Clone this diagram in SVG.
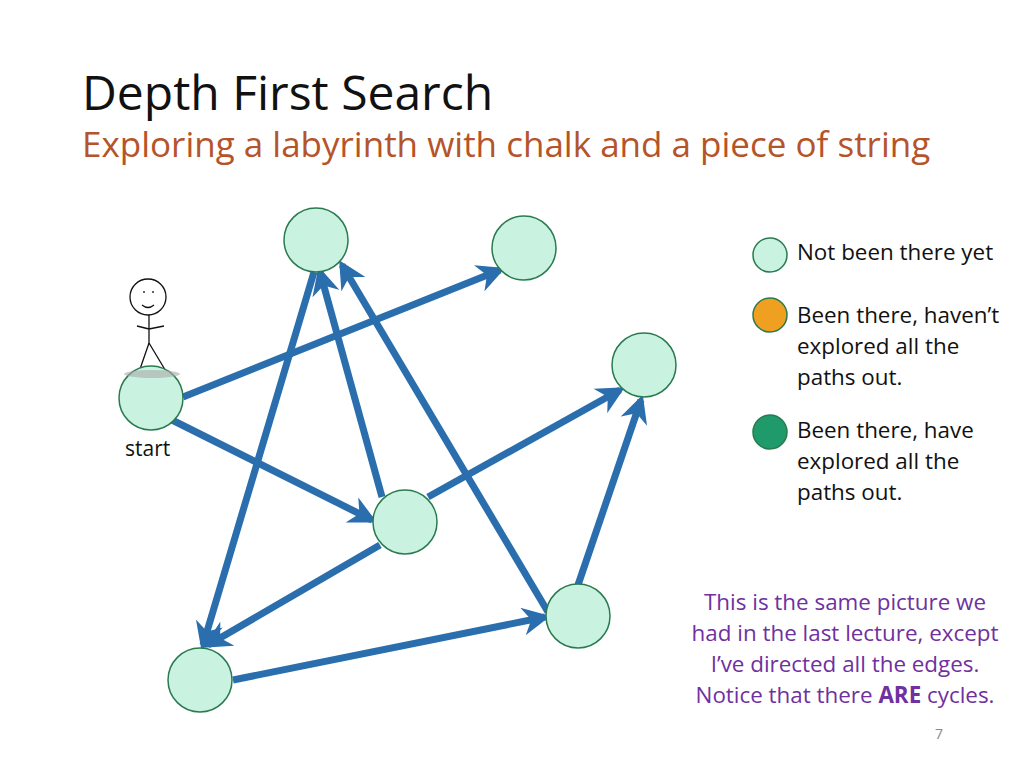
<svg xmlns="http://www.w3.org/2000/svg" width="1024" height="768" viewBox="0 0 1024 768">
<style>
.n{fill:#c9f2e1;stroke:#2a7a50;stroke-width:1.5}
.e{stroke:#2a6ead;stroke-width:7;fill:none;marker-end:url(#ah)}
.t{font-family:"Open Sans","Liberation Sans",sans-serif}
</style>
<defs>
<marker id="ah" viewBox="0 0 10 10" refX="8" refY="5" markerWidth="4" markerHeight="4" orient="auto" markerUnits="strokeWidth">
<path d="M0,0 L10,5 L0,10 L3,5 z" fill="#2a6ead"/>
</marker>
</defs>
<rect width="1024" height="768" fill="#fff"/>
<text class="t" x="82" y="110" font-size="48" fill="#111">Depth First Search</text>
<text class="t" x="82" y="157" font-size="35" fill="#b5542a">Exploring a labyrinth with chalk and a piece of string</text>
<g id="edges">
<line class="e" x1="183" y1="397" x2="500" y2="270"/>
<line class="e" x1="172" y1="420" x2="372" y2="520"/>
<line class="e" x1="382" y1="497" x2="320" y2="272"/>
<line class="e" x1="428" y1="497" x2="620" y2="390"/>
<line class="e" x1="380" y1="545" x2="208" y2="645"/>
<line class="e" x1="233" y1="680" x2="545" y2="617"/>
<line class="e" x1="548" y1="612" x2="342" y2="265"/>
<line class="e" x1="578" y1="585" x2="641" y2="400"/>
<line class="e" x1="314" y1="272" x2="203" y2="645"/>
</g>
<g id="figure" stroke="#111" stroke-width="1.3" fill="none">
<circle cx="148" cy="297" r="18"/>
<path d="M142,305 q6,5 12,0"/>
<path d="M144,291 v2 M153,291 v2"/>
<path d="M149,315 L149,343 M137,326 L149,329 L164,326 M149,343 L139,372 M149,343 L167,373"/>
</g>
<g id="nA"><circle class="n" cx="151" cy="398" r="32"/></g>
<ellipse cx="152" cy="374" rx="28" ry="4" fill="#aaa" opacity="0.6"/>
<g id="nB"><circle class="n" cx="316" cy="240" r="32"/></g>
<g id="nC"><circle class="n" cx="524" cy="248" r="32"/></g>
<g id="nD"><circle class="n" cx="644" cy="365" r="32"/></g>
<g id="nE"><circle class="n" cx="405" cy="522" r="32"/></g>
<g id="nF"><circle class="n" cx="578" cy="616" r="32"/></g>
<g id="nG"><circle class="n" cx="200" cy="680" r="32"/></g>
<text class="t" x="125" y="456" font-size="21" fill="#111">start</text>
<g id="legend" class="t" font-size="22.4" fill="#111">
<circle cx="770" cy="255" r="17" fill="#c9f2e1" stroke="#2a7a50" stroke-width="1.5"/>
<text x="797" y="260">Not been there yet</text>
<circle cx="770" cy="315" r="17" fill="#f0a020" stroke="#2a7a50" stroke-width="1.5"/>
<text x="797" y="323">Been there, haven’t</text>
<text x="797" y="354">explored all the</text>
<text x="797" y="385">paths out.</text>
<circle cx="770" cy="432" r="17" fill="#1f9a6a" stroke="#2a7a50" stroke-width="1.5"/>
<text x="797" y="438">Been there, have</text>
<text x="797" y="469">explored all the</text>
<text x="797" y="500">paths out.</text>
</g>
<g class="t" font-size="22.4" fill="#7030a0" text-anchor="middle">
<text x="845" y="610">This is the same picture we</text>
<text x="845" y="641">had in the last lecture, except</text>
<text x="845" y="672">I’ve directed all the edges.</text>
<text x="845" y="703">Notice that there <tspan font-weight="bold">ARE</tspan> cycles.</text>
</g>
<text class="t" x="939" y="739" font-size="14" fill="#888" text-anchor="middle">7</text>
</svg>
